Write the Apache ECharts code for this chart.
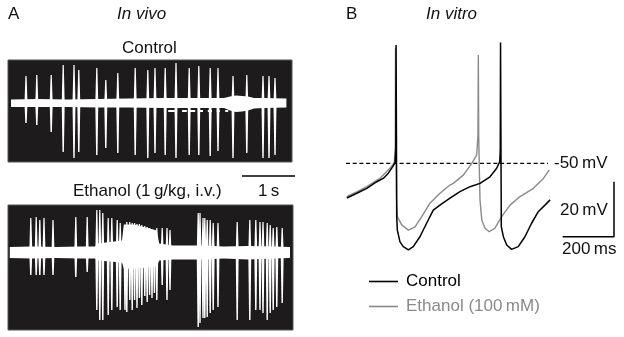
<!DOCTYPE html>
<html><head><meta charset="utf-8">
<script src="https://cdn.jsdelivr.net/npm/echarts@6/dist/echarts.min.js"></script>
<style>html,body{margin:0;padding:0;background:#fff}#c{width:624px;height:337px}</style>
</head><body><div id="c"></div>
<script>
// ---------- Panel A: in vivo recordings (time in s, amplitude in relative units from baseline)
const ctrlSpikeT    = [0.30,0.48,0.72,0.92,1.10,1.18,1.48,1.63,1.83,2.12,2.33,2.45,2.62,2.80,3.02,3.18,3.37,3.50,3.75,3.98,4.25,4.35,4.45];
const ctrlSpikeUp   = [27.5,28.5,28.5,38.5,38.5,33.5,35.5,23.5,30.5,35.5,33.5,35.5,35.5,40.5,35.5,37.5,35.5,35.5,27.5,28.5,27.5,27.5,25.5];
const ctrlSpikeDown = [19.5,21.5,28.5,48.5,54.5,48.5,51.5,44.5,49.5,51.5,54.5,49.5,51.5,54.5,51.5,51.5,52.5,47.5,54.5,49.5,54.5,54.5,51.5];
const ctrlBandT  = [0.05,0.5,1.0,1.5,2.0,2.6,3.6,3.7,3.8,3.9,4.0,4.1,4.25,4.64];
const ctrlBandUp = [4,4.5,4,4.5,5,5.5,5.5,7,8,7.5,7,5.5,5.5,5];
const ctrlBandLo = [-3.5,-3.5,-3.5,-4,-4,-4.5,-4.5,-7,-8.5,-8,-7,-5,-4.5,-4];
const ctrlBlipStart = [2.67,2.90,3.03,3.20,3.33,3.48,3.62];
const ctrlBlipEnd   = [2.78,2.98,3.12,3.25,3.40,3.53,3.67];

const ethSpikeT = [0.38,0.47,0.53,0.60,0.75,1.13,1.32,1.48,1.53,1.58,1.67,1.73,1.82,1.87,1.95,
  1.98,2.03,2.07,2.11,2.15,2.19,2.23,2.28,2.32,2.36,2.40,2.44,2.48,2.57,2.65,2.70,
  3.17,3.20,3.25,3.28,3.32,3.37,3.42,3.50,3.82,4.03,4.13,4.20,4.25,4.32,4.37,4.42,4.48,4.57];
const ethSpikeUp = [34.5,35.5,32.5,34.5,32.5,35.5,35.5,42.5,42.5,39.5,34.5,34.5,32.5,29.5,25.5,
  30.5,30.5,29.5,29.5,28.5,28.5,27.5,26.5,25.5,24.5,23.5,22.5,24.5,24.5,24.5,22.5,
  39.5,39.5,34.5,34.5,32.5,32.5,29.5,29.5,30.5,32.5,32.5,30.5,30.5,29.5,27.5,24.5,25.5,24.5];
const ethSpikeDown = [22.5,22.5,22.5,22.5,22.5,24.5,19.5,57.5,67.5,67.5,62.5,57.5,54.5,57.5,57.5,
  59.5,47.5,57.5,47.5,55.5,45.5,52.5,43.5,49.5,42.5,45.5,40.5,47.5,32.5,47.5,37.5,
  74.5,70.5,65.5,65.5,64.5,60.5,57.5,54.5,67.5,67.5,57.5,57.5,60.5,67.5,60.5,57.5,54.5,50.5];
const ethBandT  = [0.03,0.4,0.8,1.2,1.45,1.5,1.9,1.93,2.1,2.3,2.48,2.52,2.75,3.2,3.6,4.0,4.4,4.7];
const ethBandUp = [5.5,6,5.5,6,6,9,12,28,28,25,22,9,7,7,6,6.5,6,5.5];
const ethBandLo = [-5.5,-6,-5.5,-6,-6,-8,-10,-16,-16,-15,-14,-8,-7,-7,-6,-7,-6,-5.5];
const oneSecondBar = [3.9, 4.9];   // s

// ---------- Panel B: in vitro membrane potential (time ms, mV)
const ctrlTraceT = [3,42,81,120,145,165,182,191,194,195,196.5,197.5,200,210,223,243,262,288,314,340,366,405,444,483,522,561,587,599,601,602,603.5,605,613,626,645,671,697,723,749,775,795];
const ctrlTraceV = [-62.6,-60.9,-59.1,-56.7,-55.5,-53.6,-51.2,-49.8,-45,-7,-40,-69.4,-74.3,-78.5,-80.3,-81.5,-80.3,-76.7,-71.8,-67,-65.2,-62.7,-60.3,-58.5,-57.3,-54.9,-51.8,-49.4,-45,-6.1,-40,-73,-76.7,-79.7,-81.3,-80.3,-76.7,-71.8,-67.6,-65.2,-63.3];
const ethTraceT = [3,42,81,132,171,188,192,193,195,197,200,217,243,269,295,327,366,405,418,457,490,509,514,515.5,517,520,522,529,541.5,558,580,606.5,639,678,730,769,792];
const ethTraceV = [-62.1,-60.4,-58.5,-55.5,-51.8,-50,-44,-8,-40,-63.3,-69.4,-72.4,-74.3,-73.1,-69.4,-64.5,-60.9,-57.9,-57.3,-54.3,-50,-47,-40,-10.6,-40,-55,-63.3,-70.6,-73.6,-74.9,-73.6,-69.4,-65.2,-62.1,-59.1,-55.5,-52.4];
const thresholdMv = -50;
const thresholdSpan = [0, 787];
const scaleBarEndMs = 1044, scaleBarMs = 200;
const scaleBarBaseMv = -76.7, scaleBarMv = 20;

const FONT = "'Liberation Sans', Arial, Helvetica, sans-serif";
const zip = (a, b) => a.map((v, i) => [v, b[i]]);

function spikeSeries(ai, t, up, dn) {
  return {
    type: 'custom', xAxisIndex: ai, yAxisIndex: ai, silent: true, clip: false,
    data: t.map((v, i) => [v, up[i], -dn[i]]),
    encode: { x: 0, y: [1, 2] },
    renderItem(params, api) {
      const tt = api.value(0);
      const b = api.coord([tt, 0]), top = api.coord([tt, api.value(1)]), bot = api.coord([tt, api.value(2)]);
      const x = b[0];
      return { type: 'polygon', shape: { points: [[x-0.6, top[1]], [x+0.6, top[1]], [x+1.5, b[1]], [x+0.7, bot[1]], [x-0.7, bot[1]], [x-1.5, b[1]]] }, style: { fill: '#fff' } };
    }
  };
}
function bandSeries(ai, t, up, lo) {
  return {
    type: 'custom', xAxisIndex: ai, yAxisIndex: ai, silent: true, clip: false,
    data: [[t[0], 0]], encode: { x: 0, y: 1 },
    renderItem(params, api) {
      const pts = [];
      for (let i = 0; i < t.length; i++) pts.push(api.coord([t[i], up[i]]));
      for (let i = t.length - 1; i >= 0; i--) pts.push(api.coord([t[i], lo[i]]));
      return { type: 'polygon', shape: { points: pts }, style: { fill: '#fff' } };
    }
  };
}
function blipSeries(ai, s, e) {
  return {
    type: 'custom', xAxisIndex: ai, yAxisIndex: ai, silent: true,
    data: s.map((v, i) => [v, e[i]]), encode: { x: [0, 1] },
    renderItem(params, api) {
      const a = api.coord([api.value(0), -6.5]), b = api.coord([api.value(1), -8.5]);
      return { type: 'rect', shape: { x: a[0], y: a[1], width: b[0] - a[0], height: b[1] - a[1] }, style: { fill: '#fff' } };
    }
  };
}

const hidden = { show: false, splitLine: { show: false } };
const option = {
  animation: false,
  backgroundColor: '#fff',
  grid: [
    { left: 8, top: 60, width: 284, height: 102, show: true, backgroundColor: '#1d1b1c', borderColor: '#555', borderWidth: 1 },
    { left: 8, top: 205, width: 285, height: 125, show: true, backgroundColor: '#1d1b1c', borderColor: '#555', borderWidth: 1 },
    { left: 346, top: 25.8, width: 1070 * 0.2567, height: 247.5 }
  ],
  xAxis: [
    Object.assign({ type: 'value', gridIndex: 0, min: 0, max: 284 / 60 }, hidden),
    Object.assign({ type: 'value', gridIndex: 1, min: 0, max: 285 / 60 }, hidden),
    Object.assign({ type: 'value', gridIndex: 2, min: 0, max: 1070 }, hidden)
  ],
  yAxis: [
    Object.assign({ type: 'value', gridIndex: 0, min: -58.5, max: 43.5 }, hidden),
    Object.assign({ type: 'value', gridIndex: 1, min: -77.5, max: 47.5 }, hidden),
    Object.assign({ type: 'value', gridIndex: 2, min: -90, max: 0 }, hidden)
  ],
  legend: {
    left: 369, top: 273, padding: 0, orient: 'vertical', itemWidth: 29, itemHeight: 1.6, itemGap: 8,
    icon: 'rect', selectedMode: false,
    textStyle: { fontSize: 17, fontFamily: FONT, padding: [0, 0, 0, 3] },
    data: [
      { name: 'Control', textStyle: { color: '#000' } },
      { name: 'Ethanol (100\u2009mM)', textStyle: { color: '#8a8a8a' } }
    ]
  },
  series: [
    bandSeries(0, ctrlBandT, ctrlBandUp, ctrlBandLo),
    spikeSeries(0, ctrlSpikeT, ctrlSpikeUp, ctrlSpikeDown),
    blipSeries(0, ctrlBlipStart, ctrlBlipEnd),
    bandSeries(1, ethBandT, ethBandUp, ethBandLo),
    spikeSeries(1, ethSpikeT, ethSpikeUp, ethSpikeDown),
    { type: 'line', xAxisIndex: 1, yAxisIndex: 1, clip: false, silent: true, symbol: 'none',
      data: [[oneSecondBar[0], 76.5], [oneSecondBar[1], 76.5]], lineStyle: { color: '#000', width: 1.5 } },
    { type: 'line', xAxisIndex: 2, yAxisIndex: 2, silent: true, symbol: 'none', clip: false,
      data: [[thresholdSpan[0], thresholdMv], [thresholdSpan[1], thresholdMv]],
      lineStyle: { color: '#000', width: 1.3, type: [4, 2.7] } },
    { name: 'Ethanol (100\u2009mM)', type: 'line', xAxisIndex: 2, yAxisIndex: 2, silent: true, symbol: 'none', clip: false,
      data: zip(ethTraceT, ethTraceV), lineStyle: { color: '#8a8a8a', width: 1.4 }, itemStyle: { color: '#8a8a8a' } },
    { name: 'Control', type: 'line', xAxisIndex: 2, yAxisIndex: 2, silent: true, symbol: 'none', clip: false,
      data: zip(ctrlTraceT, ctrlTraceV), lineStyle: { color: '#000', width: 1.5 }, itemStyle: { color: '#000' } },
    { type: 'line', xAxisIndex: 2, yAxisIndex: 2, silent: true, symbol: 'none', clip: false,
      data: [[scaleBarEndMs - scaleBarMs, scaleBarBaseMv], [scaleBarEndMs, scaleBarBaseMv], [scaleBarEndMs, scaleBarBaseMv + scaleBarMv]],
      lineStyle: { color: '#000', width: 1.5 } }
  ],
  graphic: [
    { type: 'text', left: 8, top: 6, style: { text: 'A', font: '17px ' + FONT, fill: '#111' } },
    { type: 'text', left: 117, top: 6, style: { text: 'In vivo', font: 'italic 17px ' + FONT, fill: '#111' } },
    { type: 'text', left: 122, top: 40, style: { text: 'Control', font: '17px ' + FONT, fill: '#111' } },
    { type: 'text', left: 73, top: 183, style: { text: 'Ethanol (1\u2009g/kg, i.v.)', font: '17px ' + FONT, fill: '#111' } },
    { type: 'text', left: 258, top: 183, style: { text: '1\u2009s', font: '17px ' + FONT, fill: '#111' } },
    { type: 'text', left: 346, top: 6, style: { text: 'B', font: '17px ' + FONT, fill: '#111' } },
    { type: 'text', left: 426, top: 6, style: { text: 'In vitro', font: 'italic 17px ' + FONT, fill: '#111' } },
    { type: 'text', left: 554, top: 155, style: { text: '-50\u2009mV', font: '17px ' + FONT, fill: '#111' } },
    { type: 'text', left: 560, top: 202, style: { text: '20\u2009mV', font: '17px ' + FONT, fill: '#111' } },
    { type: 'text', left: 562, top: 241, style: { text: '200\u2009ms', font: '17px ' + FONT, fill: '#111' } }
  ]
};
const chart = echarts.init(document.getElementById('c'), null, { renderer: 'canvas' });
chart.setOption(option);
</script></body></html>
